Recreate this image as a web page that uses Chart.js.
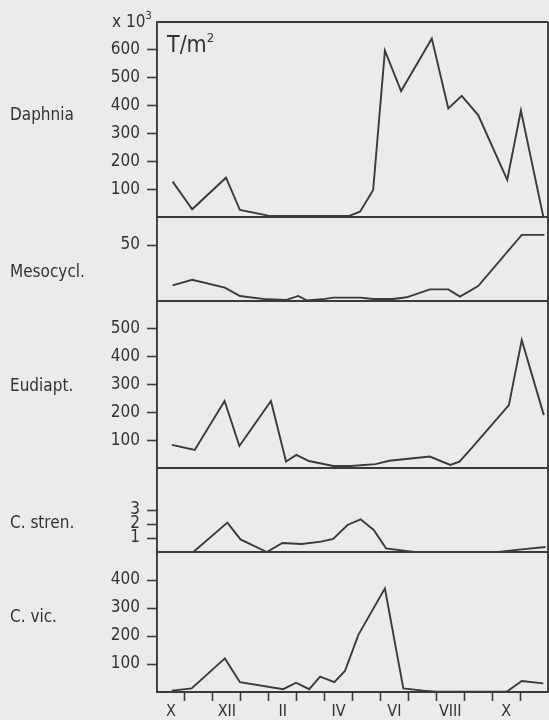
<!DOCTYPE html>
<html><head><meta charset="utf-8">
<script src="https://cdn.jsdelivr.net/npm/chart.js@4/dist/chart.umd.min.js"></script>
<style>
html,body{margin:0;padding:0;background:#ebebe9;}
#wrap{position:relative;width:549px;height:720px;overflow:hidden;background:#ebebe9;}
#c{position:absolute;left:0;top:0;}
.lbl{position:absolute;font-family:'DejaVu Sans Condensed','DejaVu Sans',sans-serif;font-size:17px;color:#333;line-height:1;white-space:nowrap;}
.lbl sup{font-size:11px;vertical-align:0;position:relative;top:-8px;}
</style></head><body>
<div id="wrap">
<canvas id="c" width="549" height="720"></canvas>
<div class="lbl" style="left:112px;top:13px">x 10<sup>3</sup></div>
<div class="lbl" style="left:167px;top:33px;font-size:23px">T/m<sup style="font-size:13px;top:-10px">2</sup></div>
<div class="lbl" style="left:10px;top:106px">Daphnia</div>
<div class="lbl" style="left:10px;top:263px">Mesocycl.</div>
<div class="lbl" style="left:10px;top:377px">Eudiapt.</div>
<div class="lbl" style="left:10px;top:514px">C. stren.</div>
<div class="lbl" style="left:10px;top:608px">C. vic.</div>
</div>
<script>
// ---- data (months counted from start of October) ----
const monthLabels = ['X','XII','II','IV','VI','VIII','X'];
const monthLabelPos = [0.5,2.5,4.5,6.5,8.5,10.5,12.5];
const monthTicks = [1,2,3,4,5,6,7,8,9,10,11,12,13];

const daphniaMonths = [0.56,1.26,2.47,2.97,3.98,4.9,5.9,6.91,7.27,7.74,8.16,8.74,9.84,10.43,10.91,11.5,12.54,13.03,13.83];
const daphniaValues = [127,28,141,25,5,4,4,5,19,97,597,452,641,390,435,366,133,382,2];
const daphniaTicks = [100,200,300,400,500,600];

const mesoMonths = [0.56,1.26,2.43,2.97,3.93,4.64,5.06,5.36,5.9,6.31,7.27,7.74,8.46,8.94,9.77,10.43,10.85,11.5,13.06,13.87];
const mesoValues = [14,19,12,4.5,1.5,1,4.5,0.6,1.5,3,3,1.8,1.8,3.3,10.4,10.4,3.9,13.4,59,59];
const mesoTicks = [50];

const eudiMonths = [0.53,1.35,2.42,2.95,4.08,4.62,4.99,5.44,6.31,6.94,7.82,8.32,9.77,10.5,10.83,11.21,12.6,13.06,13.85];
const eudiValues = [83,65,241,79,241,23,47,25,7,7,14,26,41,11,23,65,226,460,190];
const eudiTicks = [100,200,300,400,500];

const strenMonths = [1.3,2.52,2.99,3.93,4.49,5.18,5.87,6.31,6.82,7.29,7.76,8.2,9.2,12.22,12.97,13.91];
const strenValues = [0,2.1,0.9,0,0.64,0.57,0.74,0.93,1.93,2.33,1.57,0.26,0,0,0.17,0.36];
const strenTicks = [1,2,3];

const vicMonths = [0.53,1.24,2.43,2.97,4.52,4.98,5.45,5.84,6.35,6.73,7.21,8.16,8.82,9.53,10.01,12.52,13.06,13.83];
const vicValues = [5,13,120,35,10,33,10,55,35,75,204,370,13,5,1,1,39,31];
const vicTicks = [100,200,300,400];

// ---- chart ----
const INK = '#3a3a3a';
const FONT = {family:"'DejaVu Sans Condensed','DejaVu Sans',sans-serif", size:17};

const panels = [
  {id:'yD', months:daphniaMonths, values:daphniaValues, max:700, ticks:daphniaTicks, h:195},
  {id:'yM', months:mesoMonths, values:mesoValues, max:75, ticks:mesoTicks, h:84},
  {id:'yE', months:eudiMonths, values:eudiValues, max:600, ticks:eudiTicks, h:167},
  {id:'yS', months:strenMonths, values:strenValues, max:6, ticks:strenTicks, h:84},
  {id:'yV', months:vicMonths, values:vicValues, max:500, ticks:vicTicks, h:140}
];

const scales = {
  x: {
    type:'linear', position:'bottom', min:0, max:14,
    afterFit(s){ s.height = 28; },
    afterBuildTicks(s){
      const vals = monthTicks.concat(monthLabelPos).sort((a,b)=>a-b);
      s.ticks = vals.map(v=>({value:v}));
    },
    ticks:{
      autoSkip:false, maxRotation:0, minRotation:0, padding:1, color:'#333', font:{...FONT, size:16},
      callback(v){ const i = monthLabelPos.indexOf(v); return i>=0 ? monthLabels[i] : ''; }
    },
    grid:{
      drawOnChartArea:false, drawTicks:true, tickLength:9, tickWidth:1.6,
      tickColor(ctx){ return (ctx.tick && Number.isInteger(ctx.tick.value)) ? INK : 'rgba(0,0,0,0)'; }
    },
    border:{display:true, color:INK, width:1.9}
  }
};
panels.forEach((p, i) => {
  scales[p.id] = {
    type:'linear', position:'left', stack:'panels', stackWeight:p.h, weight:panels.length - i,
    min:0, max:p.max,
    afterFit(s){ s.width = 157; },
    afterBuildTicks(s){ s.ticks = p.ticks.map(v=>({value:v})); },
    ticks:{autoSkip:false, padding:7, color:'#333', font:FONT},
    grid:{drawOnChartArea:false, drawTicks:true, tickLength:10, tickWidth:1.6, tickColor:INK},
    border:{display:true, color:INK, width:1.9}
  };
});

const framePlugin = {
  id:'frame',
  afterDraw(chart){
    const {ctx, chartArea:a} = chart;
    ctx.save();
    ctx.strokeStyle = INK; ctx.lineWidth = 1.9;
    ctx.beginPath();
    ctx.moveTo(a.left, a.top); ctx.lineTo(a.right, a.top);
    ctx.moveTo(a.right, a.top); ctx.lineTo(a.right, a.bottom);
    panels.slice(0, -1).forEach(p => {
      const s = chart.scales[p.id];
      ctx.moveTo(a.left, s.bottom); ctx.lineTo(a.right, s.bottom);
    });
    ctx.stroke();
    ctx.restore();
  }
};

new Chart(document.getElementById('c'), {
  type:'line',
  data:{
    datasets: panels.map(p => ({
      data: p.months.map((m, k) => ({x:m, y:p.values[k]})),
      xAxisID:'x', yAxisID:p.id,
      borderColor:INK, borderWidth:1.9, pointRadius:0, tension:0, fill:false
    }))
  },
  options:{
    responsive:false, animation:false,
    layout:{padding:{top:22, right:1, left:0, bottom:0}},
    plugins:{legend:{display:false}, tooltip:{enabled:false}},
    scales
  },
  plugins:[framePlugin]
});
</script>
</body></html>
